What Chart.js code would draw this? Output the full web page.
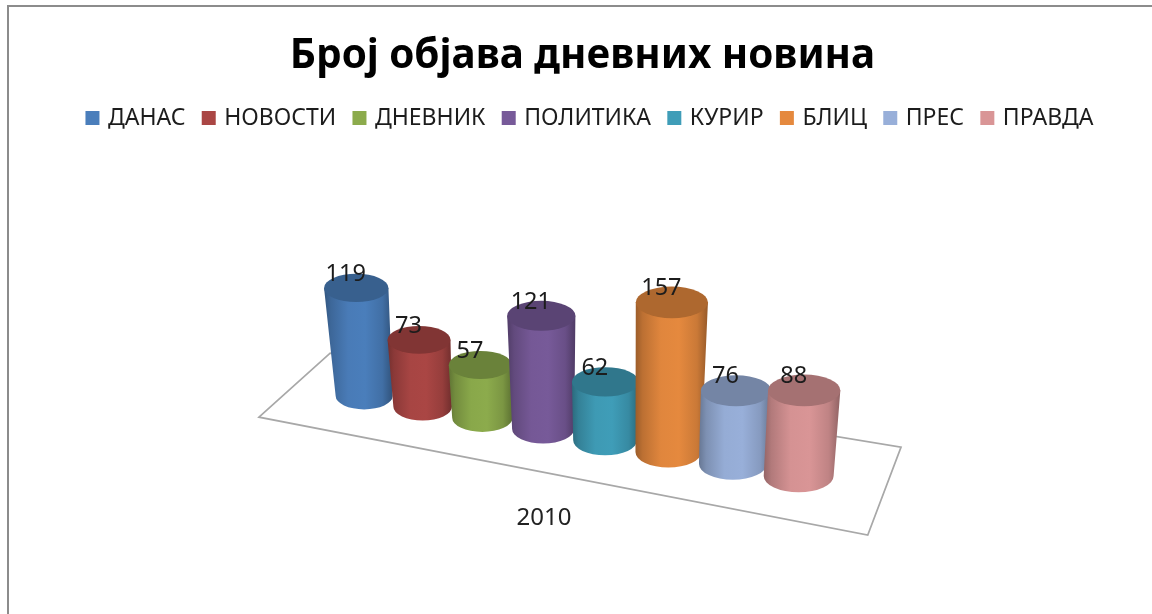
<!DOCTYPE html>
<html>
<head>
<meta charset="utf-8">
<style>
  html, body { margin: 0; background: #fff; overflow: hidden; }
  #frame { position: absolute; left: 7px; top: 5px; width: 1145px; height: 609px;
           border-top: 2.5px solid #8c8c8c; border-left: 2.5px solid #8c8c8c; box-sizing: border-box; }
  canvas { position: absolute; left: 0; top: 0; filter: blur(0.45px); }
</style>
<script src="https://cdn.jsdelivr.net/npm/chart.js@4/dist/chart.umd.min.js"></script>
</head>
<body>
<div id="frame"></div>
<canvas id="chart" width="1152" height="614"></canvas>
<script>
const titleText = "Број објава дневних новина";
const years = ["2010"];
const newspapers = ["ДАНАС", "НОВОСТИ", "ДНЕВНИК", "ПОЛИТИКА", "КУРИР", "БЛИЦ", "ПРЕС", "ПРАВДА"];
const counts = [119, 73, 57, 121, 62, 157, 76, 88];
const colors = ["#4a7ebb", "#aa4644", "#8cab4c", "#775a99", "#3f9db8", "#e5893e", "#98afd9", "#d99596"];

const fontName = '"Noto Sans", sans-serif';

// floor outline: fraction of the x scale, value on the y scale
const floorX = [0.0078, 0.119, 1.011, 0.959];
const floorY = [18.6, 86.7, -13.3, -107];

// how the flat bars get turned into a receding row of cylinders
const depth = 0.000157;
const floorSlope = 0.184;

const shade = (hex, f) => {
  const n = parseInt(hex.slice(1), 16);
  const c = [n >> 16, (n >> 8) & 255, n & 255].map((v) => Math.round(v * f));
  return `rgb(${c[0]},${c[1]},${c[2]})`;
};

const project = (chart, el) => {
  const cx = (chart.chartArea.left + chart.chartArea.right) / 2;
  const u = el.x - cx;
  const w = 1 - depth * u;
  const h = (el.base - el.y) / w;
  const x = cx + u / w;
  const y = el.base + (floorSlope * u) / w;
  const rb = el.width / 2 / (w * w * w);
  // tops flare more on the far (left) end of the row
  const rt = rb * (1 + h * 0.0012 * (1 - (x - cx + 209) / 650));
  const topX = x + h * (x - cx - 21) * 0.000317;
  return { x, y, rb, rt, topX, topY: y - h };
};

const drawCylinder = (ctx, p, color) => {
  const ryB = p.rb * 0.47;
  const ryT = p.rt * 0.44;
  const left = Math.min(p.x - p.rb, p.topX - p.rt);
  const right = Math.max(p.x + p.rb, p.topX + p.rt);
  const grad = ctx.createLinearGradient(left, 0, right, 0);
  grad.addColorStop(0, shade(color, 0.68));
  grad.addColorStop(0.1, shade(color, 0.82));
  grad.addColorStop(0.35, shade(color, 0.98));
  grad.addColorStop(0.6, shade(color, 1));
  grad.addColorStop(0.85, shade(color, 0.88));
  grad.addColorStop(1, shade(color, 0.66));
  ctx.beginPath();
  ctx.moveTo(p.topX - p.rt, p.topY);
  ctx.lineTo(p.x - p.rb, p.y);
  ctx.ellipse(p.x, p.y, p.rb, ryB, 0, Math.PI, 0, true);
  ctx.lineTo(p.topX + p.rt, p.topY);
  ctx.closePath();
  ctx.fillStyle = grad;
  ctx.fill();
  ctx.beginPath();
  ctx.ellipse(p.topX, p.topY, p.rt, ryT, 0, 0, Math.PI * 2);
  ctx.fillStyle = shade(color, 0.76);
  ctx.fill();
};

const cylinderPlugin = {
  id: "cylinders",
  // legend sits a little right of the title in the original
  afterLayout(chart) {
    chart.legend.left += 8.5;
    chart.legend.right += 8.5;
  },
  // bars are still laid out by the chart, only their drawing is replaced
  beforeDatasetDraw: () => false,
  beforeDatasetsDraw(chart) {
    const { ctx, chartArea, scales } = chart;
    ctx.save();
    ctx.beginPath();
    floorX.forEach((fx, i) => {
      const px = chartArea.left + fx * (chartArea.right - chartArea.left);
      const py = scales.y.getPixelForValue(floorY[i]);
      if (i === 0) ctx.moveTo(px, py);
      else ctx.lineTo(px, py);
    });
    // order of the corners: front left, back left, back right, front right
    ctx.closePath();
    ctx.strokeStyle = "#a8a8a8";
    ctx.lineWidth = 1.7;
    ctx.stroke();
    ctx.restore();
  },
  afterDatasetsDraw(chart) {
    const { ctx } = chart;
    const tops = [];
    ctx.save();
    chart.data.datasets.forEach((ds, i) => {
      const el = chart.getDatasetMeta(i).data[0];
      const p = project(chart, el);
      drawCylinder(ctx, p, ds.backgroundColor);
      tops.push({ p, value: ds.data[0] });
    });
    ctx.font = `23.5px ${fontName}`;
    ctx.fillStyle = "#1c1c1c";
    ctx.textAlign = "center";
    ctx.textBaseline = "middle";
    tops.forEach((t) => ctx.fillText(t.value, t.p.topX - 10.5, t.p.topY - 14));
    ctx.restore();
  },
};

new Chart(document.getElementById("chart"), {
  type: "bar",
  data: {
    labels: years,
    datasets: newspapers.map((name, i) => ({
      label: name,
      data: [counts[i]],
      backgroundColor: colors[i],
      borderColor: colors[i],
      borderWidth: 6,
      categoryPercentage: 0.775,
      barPercentage: 1.016,
    })),
  },
  options: {
    responsive: false,
    animation: false,
    events: [],
    layout: { padding: { left: 13, top: 12, bottom: 81 } },
    plugins: {
      tooltip: { enabled: false },
      title: {
        display: true,
        text: titleText,
        color: "#000",
        font: { family: fontName, size: 40.4, weight: "bold" },
        padding: { top: 20, bottom: 6.7 },
      },
      legend: {
        position: "top",
        labels: {
          boxWidth: 8,
          boxHeight: 8,
          padding: 19.3,
          color: "#1c1c1c",
          font: { family: fontName, size: 23 },
        },
      },
    },
    scales: {
      x: {
        grid: { display: false },
        border: { display: false },
        ticks: {
          color: "#222",
          padding: 0,
          labelOffset: -30,
          font: { family: fontName, size: 24 },
        },
      },
      // both y axes are invisible, they only hold the plot area in place
      y: {
        min: -65.6,
        max: 314.3,
        grid: { display: false },
        border: { display: false },
        ticks: { display: false },
        afterFit: (scale) => { scale.width = 241; },
      },
      yRight: {
        position: "right",
        grid: { display: false },
        border: { display: false },
        ticks: { display: false },
        afterFit: (scale) => { scale.width = 258; },
      },
    },
  },
  plugins: [cylinderPlugin],
});
</script>
</body>
</html>
